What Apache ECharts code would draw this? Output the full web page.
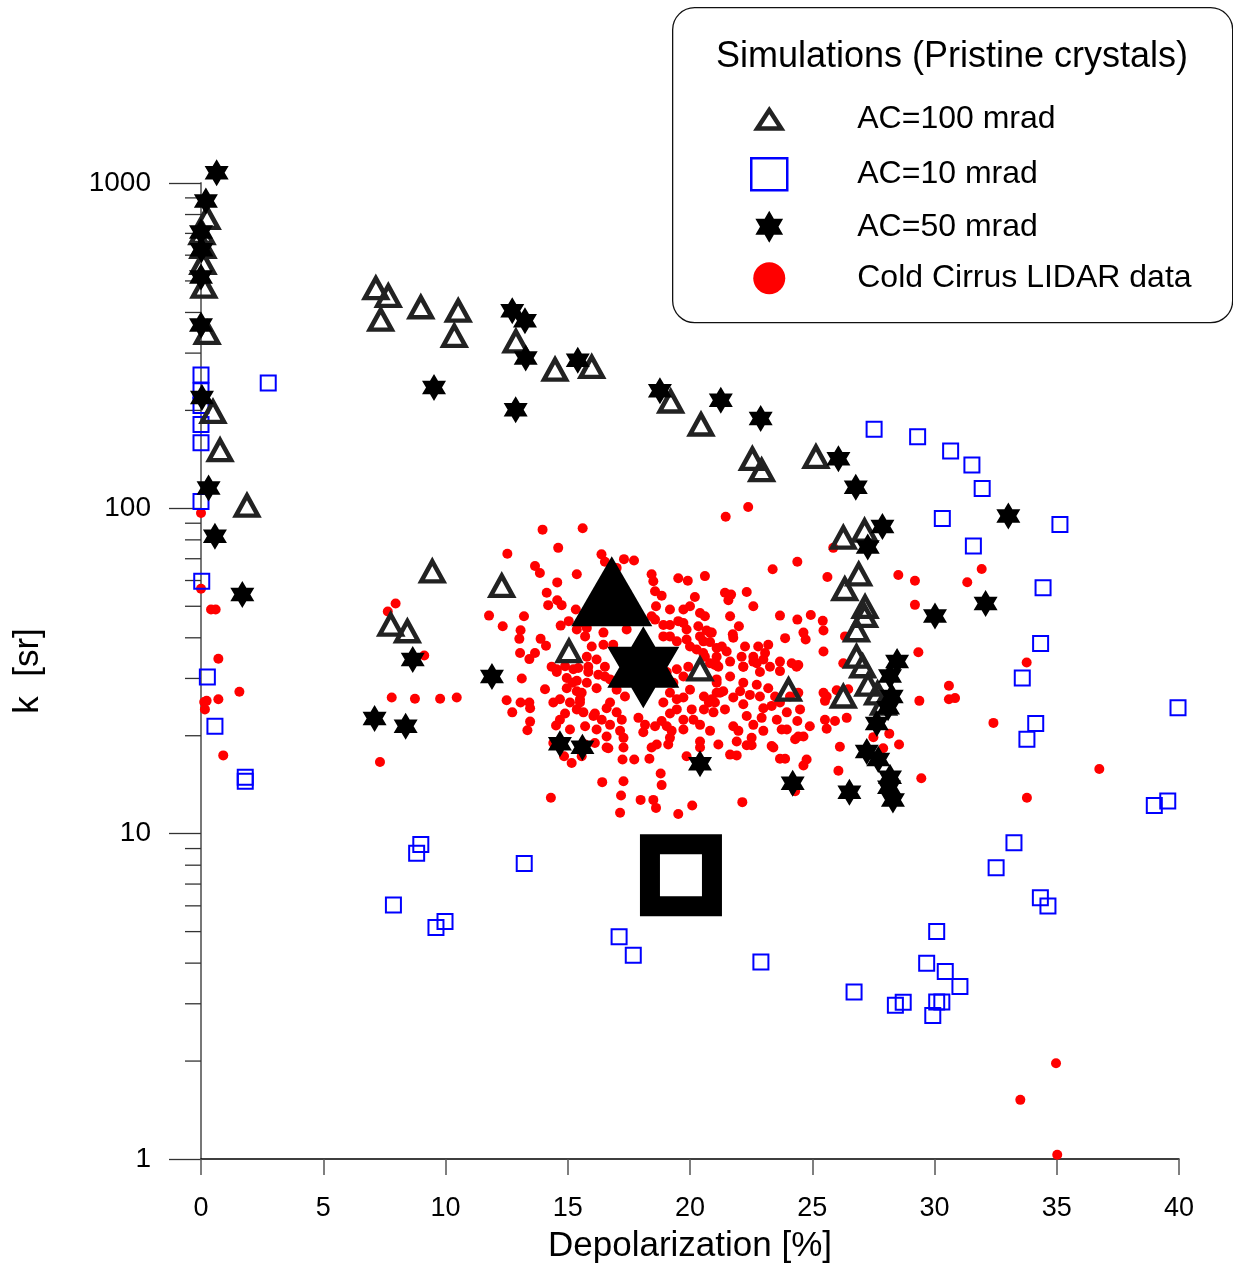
<!DOCTYPE html>
<html><head><meta charset="utf-8">
<script src="https://cdn.jsdelivr.net/npm/echarts@6/dist/echarts.min.js"></script>
<style>html,body{margin:0;padding:0;background:#fff}#c{width:1233px;height:1269px}</style>
</head><body><div id="c"></div>
<script>
// ---------- DATA (Depolarization %, k sr) ----------
const legendNames = ['AC=100 mrad', 'AC=10 mrad', 'AC=50 mrad', 'Cold Cirrus LIDAR data'];
const legendTitle = 'Simulations (Pristine crystals)';
const xTickValues = [0, 5, 10, 15, 20, 25, 30, 35, 40];
const yMinorTickValues = [2,3,4,5,6,7,8,9,20,30,40,50,60,70,80,90,200,300,400,500,600,700,800,900];

const ac100 = [
  [0.25,781],[0.04,702],[0.08,636],[0.08,568],[0.12,480],[0.25,346],[0.49,198],[0.78,151],[1.88,102],
  [7.15,475],[7.66,450],[7.35,380],[8.99,415],[10.52,405],[10.36,339],[12.88,326],[14.48,267],[15.98,272],
  [19.21,213],[20.45,181],[22.55,142],[22.93,131],[25.15,144],
  [26.27,81.3],[27.14,85.4],[26.90,62.7],[26.33,56.5],[27.16,49.8],[27.14,46.7],[26.81,42.2],[26.81,35.0],
  [27.06,32.7],[27.28,28.7],[27.67,27.0],[27.91,25.1],[26.27,26.4],[24.03,27.7],[20.41,32.0],[15.05,36.4],
  [12.30,57.8],[9.46,64.0],[7.76,43.9],[8.44,41.9]
];
const ac10 = [
  [0,257],[0,230],[2.75,243],[0,207],[0,181],[0,159],[0,105],[0.03,59.7],[0.26,30.3],[0.57,21.4],[1.81,14.9],[1.81,14.5],
  [8.99,9.27],[8.82,8.70],[13.22,8.09],[7.87,6.04],[9.98,5.37],[9.61,5.15],[17.10,4.82],[17.68,4.23],[22.90,4.03],
  [27.53,175],[29.31,166],[30.66,150],[31.53,136],[31.95,115],[30.32,93.0],[35.13,89.2],[31.59,76.6],[34.44,57.0],
  [34.34,38.4],[33.59,30.1],[34.14,21.8],[33.78,19.5],[39.96,24.4],[38.99,12.2],[39.54,12.6],[33.25,9.37],[32.52,7.85],
  [34.33,6.35],[34.64,5.99],[30.09,5.00],[29.68,4.00],[30.44,3.77],[31.04,3.39],[26.71,3.26],[28.40,2.97],[28.72,3.03],
  [30.09,3.04],[30.30,3.04],[29.93,2.76]
];
const ac50 = [
  [0.64,1076],[0.20,880],[0.0,707],[0.02,623],[0.0,514],[0.0,366],[0.04,219],[0.31,115.5],[0.57,82],[1.69,54.3],
  [12.73,405],[13.25,377],[13.28,290],[9.53,235],[12.87,201],[15.41,285],[18.77,230],[21.26,215],[22.89,189],[26.07,142],
  [8.66,34.3],[11.90,30.4],[7.10,22.6],[8.37,21.4],[14.68,18.9],[15.60,18.45],[20.41,16.4],[24.2,14.3],
  [26.78,116],[27.87,87.9],[27.27,76.1],[33.02,94.7],[32.09,51.0],[30.02,46.7],[28.47,33.8],[28.18,30.5],[28.25,26.4],
  [28.10,24.4],[27.64,21.8],[27.23,17.9],[27.70,16.9],[28.18,14.9],[28.14,13.9],[28.3,12.7],[26.52,13.4]
];
const lidar = [
  [13.97,86],[15.61,86.9],[14.61,75.6],[12.53,72.5],[13.66,66.5],[13.86,63.3],[16.38,72.2],[16.52,68.5],[17.30,69.8],[17.71,69.1],
  [15.37,62.7],[14.57,59.2],[18.43,62.7],[18.50,59.7],[19.52,61.0],[19.91,59.9],[20.61,61.9],[14.14,55],[14.57,52.2],[14.75,50.4],
  [14.20,50.4],[18.57,55.6],[18.84,53.9],[20.20,53.4],[18.61,50.0],[19.18,48.9],[11.78,46.8],[13.21,46.6],[12.34,43.4],[14.71,43.6],
  [15.33,48.9],[13.07,42.2],[13.02,39.7],[13.89,39.7],[14.11,37.8],[13.05,35.9],[13.66,35.9],[13.43,34.4],[16.46,41.5],[16.46,38.1],
  [16.86,38.1],[17.41,42.4],[15.71,40.4],[19.73,48.9],[20.41,47.7],[19.73,44.4],[20.34,43.4],[20.82,41.5],[18.91,40.4],[19.46,39],
  [20.0,37.6],[20.61,35],[18.43,46.6],[15.98,37.6],[16.18,34.3],[15.64,44.4],[17.61,50.0],[17.41,55],[17.0,65.6],
  [19.86,42.4],[20.68,42.1],[19.18,40.4],[19.86,39.5],[20.54,35.9],[21.09,37.2],[15.78,35.0],[15.37,42.4],[15.78,42.9],[19.52,45],
  [20.0,50],[20.61,46.6],
  [18.57,45.5],[18.91,43.8],[19.18,43.8],[20.41,40.4],[20.55,39],[20.27,36.8],[20.82,33.4],[21.09,33],
  [14.55,31.4],[15.09,25.3],[15.71,18.8],[16.11,19.0],[16.59,19.9],[15.09,20.9],[14.68,22.4],[19.73,22.4],[20.41,21.6],
  [20.89,25.9],[21.36,27.4],[22.05,27.4],[23.48,26.4],[23.68,25.3],[24.09,26.4],[23.96,23.6],[23.55,22.4],[22.59,21.6],
  [23.0,20.7],[24.5,24.1],[24.9,21.4],[20.82,38.8],[21.09,35],[22.73,33.4],[23.27,32.6],[22.18,32.6],
  [15.23,32],[15.84,31.4],[15.5,25.9],[16.05,23],
  [21.46,94.2],[22.38,101],[24.39,68.5],[23.38,65],[25.62,61.5],[28.52,62.4],[29.2,59.9],[31.34,59.3],[21.43,55],[21.68,54.3],
  [21.57,52.2],[22.32,55.3],[22.59,50],[21.64,46.6],[22.0,43.4],[23.68,46.8],[24.39,45.5],[24.94,47.0],[25.43,45.1],[25.46,42.1],
  [29.2,50.5],[20.89,41.5],[21.75,41],[21.77,40],[23.89,39.9],[24.64,41.5],[24.73,39.5],[25.46,36.3],[21.3,37.6],[21.5,36.3],
  [22.25,37.6],[22.79,37.6],[23.2,38.1],[22.59,35],[23.07,35.9],[22.11,35],[21.02,33.0],[21.64,33.8],[23.68,33.8],[24.16,33.4],
  [24.43,33.0],[26.27,33.4],[29.34,36.1],[25.86,75.6],[26.34,40.4],
  [13.12,30],[14.07,27.8],[12.5,25.7],[13.07,25.3],[13.43,25.3],[13.46,24.3],[12.73,23.6],[13.46,22.1],[13.35,20.8],[14.52,21.5],
  [14.41,25.3],[14.89,23.4],[14.68,25.9],[14.96,28],[14.96,30.1],[14.34,32.6],[14.89,32.7],[15.43,32.3],[15.84,32.6],[15.37,29.5],
  [15.78,29.1],[15.57,27.1],[15.5,25.3],[15.37,24.1],[15.64,23.6],[16.11,23.4],[16.39,22.4],[15.71,21.4],[16.18,20.9],[16.73,21.6],
  [16.18,28.0],[16.52,30.4],[16.52,32.6],[16.25,30.8],[16.73,25.3],[16.59,24.3],[17.0,23.6],[17.21,22.4],[17.14,20.7],[17.28,19.7],
  [17.28,18.4],[16.59,18.4],[17.24,16.9],[17.72,16.9],[18.34,17.0],[16.41,14.4],[17.28,14.5],[14.31,12.9],[17.18,13.1],[17.98,12.7],
  [18.5,12.7],[18.61,12.0],[17.14,11.6],[19.52,11.5],[20.09,12.2],[18.8,15.3],[18.84,14.1],[18.43,18.4],[18.64,18.8],[19.11,18.8],
  [19.18,19.7],[19.25,20.7],[19.05,21.4],[19.73,20.9],[19.86,17.3],[20.41,19.2],[20.41,18.4],[20.82,20.7],[21.16,18.8],[17.89,22.7],
  [18.16,21.6],[18.09,20.5],[18.57,21.4],[18.84,22.2],[19.18,23.4],[19.46,24.1],[19.46,25.9],[18.91,25.3],[19.18,27.1],[19.73,26.2],
  [20.0,27.7],[20.07,24.1],[20.14,22.4],[20.57,24.1],[20.77,25.3],[20.57,26.4],[20.96,23.6],[21.09,27.1],[17.0,27.7],[17.34,26.4],
  [16.73,29.8],[19.73,30.4],[19.46,32.0],[19.93,32.6],[19.05,31.4],[19.32,29.1],[21.09,29.1],[21.16,32.6],[14.41,19.0],[15.16,16.5],
  [15.57,17.3],
  [22.18,32.6],[22.59,33.8],[23.0,34.3],[23.68,31.6],[24.36,32.6],[21.09,29.8],[21.64,30.4],[22.18,29.1],[22.86,31.4],[22.73,28.7],
  [23.2,28.0],[21.23,27.1],[21.77,26.2],[22.45,26.7],[22.86,26.4],[21.02,25.3],[21.43,24.1],[22.18,25.0],[23.0,24.3],[23.34,24.7],
  [24.43,27.1],[25.59,26.4],[25.52,25.6],[22.32,23],[22.93,22.7],[24.39,22.2],[25.52,22.4],[25.93,22.2],[26.41,22.7],[25.59,21.0],
  [21.77,21.4],[21.98,20.7],[22.52,19.7],[21.91,19.2],[23.75,20.9],[23.96,20.9],[24.43,19.9],[24.64,19.9],[24.3,19.5],
  [22.32,18.7],[22.52,18.7],[23.34,18.6],[23.41,18.4],[21.64,17.5],[21.91,17.4],[23.68,17.0],[23.89,17.0],[24.77,16.9],[24.64,16.2],
  [22.14,12.5],[24.3,13.5],[26.13,18.5],[26.07,15.6],[27.5,19.8],[28.15,20.3],[28.55,18.8],[27.9,18.3],[30.59,28.5],[30.59,25.9],
  [30.84,26.1],[29.38,25.6],[29.46,14.8],[25.46,27.1],
  [7.96,51],[7.64,48.2],[9.13,35.3],[7.8,26.2],[8.75,26.0],[9.78,26.0],[10.46,26.2],[7.32,16.6],[15.04,45],[14.55,32],
  [15.19,29.1],[15.37,27.4],[14.85,17.3],[16.66,18.3],
  [0,96.8],[0,56.6],[0.41,48.9],[0.6,48.9],[0.71,34.5],[0.13,25.4],[0.23,25.6],[0.16,24.1],[0.71,25.9],[1.57,27.3],[0.91,17.4],
  [31.93,65.1],[33.77,33.6],[26.0,27.6],[26.47,27.8],[32.41,21.9],[36.74,15.8],[33.78,12.9],[34.97,1.97],[33.51,1.52],[35.02,1.03]
];
// large mean markers: triangle (AC=100), star (AC=50), square (AC=10)
const meanTriangle = [16.8, 55.6];
const meanStar = [18.09, 32.5];
const meanSquare = [19.63, 7.45];

// ---------- CHART ----------
const STAR = 'path://M866 0L1155 500L1732 500L1443 1000L1732 1500L1155 1500L866 2000L577 1500L0 1500L289 1000L0 500L577 500Z';
const LEGEND_TRI = 'path://M0 0M36 32M18 6.8L30 25.2L6 25.2Z';
const LEGEND_STAR = 'path://M0 0M36 32M18 0L22.62 8L31.86 8L27.24 16L31.86 24L22.62 24L18 32L13.38 24L4.14 24L8.76 16L4.14 8L13.38 8Z';
const FONT = '"Liberation Sans", Arial, sans-serif';
const chart = echarts.init(document.getElementById('c'), null, {renderer: 'canvas'});

const triStyle = {color: 'rgba(255,255,255,0)', borderColor: '#222', borderWidth: 4.5, opacity: 1};
const sqStyle = {color: 'rgba(255,255,255,0)', borderColor: '#0000ff', borderWidth: 2, opacity: 1};
const starStyle = {color: '#000', opacity: 1};
const dotStyle = {color: '#ff0000', opacity: 1};

const option = {
  animation: false,
  backgroundColor: '#fff',
  textStyle: {fontFamily: FONT},
  grid: {left: 201, right: 54, top: 183, bottom: 109, containLabel: false},
  xAxis: {
    type: 'value', min: xTickValues[0], max: xTickValues[xTickValues.length - 1], interval: 5,
    axisLine: {show: true, lineStyle: {color: '#000', width: 1.5}},
    axisTick: {show: true, length: 16, lineStyle: {color: '#555', width: 1.5}},
    axisLabel: {fontSize: 27, color: '#000', margin: 36, fontFamily: FONT},
    splitLine: {show: false},
    name: 'Depolarization [%]', nameLocation: 'middle', nameGap: 70,
    nameTextStyle: {fontSize: 35, color: '#000', fontFamily: FONT}
  },
  yAxis: {
    type: 'log', logBase: 10, min: 1, max: 1000,
    axisLine: {show: true, lineStyle: {color: '#777', width: 2}},
    axisTick: {show: true, length: 32, lineStyle: {color: '#333', width: 1.3}},
    axisLabel: {fontSize: 28, color: '#000', margin: 50, fontFamily: FONT, formatter: v => String(Math.round(v))},
    splitLine: {show: false},
    name: 'k  [sr]', nameLocation: 'middle', nameGap: 155, nameRotate: 90,
    nameTextStyle: {fontSize: 35, color: '#000', fontFamily: FONT}
  },
  legend: {
    orient: 'vertical', left: 749, top: 101, padding: 0, itemWidth: 36, itemHeight: 32, itemGap: 19.4,
    selectedMode: false, symbolKeepAspect: false,
    data: [
      {name: legendNames[0], icon: LEGEND_TRI, itemStyle: {color: 'rgba(255,255,255,0)', borderColor: '#222', borderWidth: 4.5}},
      {name: legendNames[1], itemStyle: {color: 'rgba(255,255,255,0)', borderColor: '#0000ff', borderWidth: 2.5}},
      {name: legendNames[2], icon: LEGEND_STAR, itemStyle: {color: '#000'}},
      {name: legendNames[3], itemStyle: {color: '#ff0000'}}
    ],
    textStyle: {fontSize: 32, color: '#000', fontFamily: FONT, padding: [0, 0, 0, 65]}
  },
  graphic: [
    {type: 'rect', left: 672, top: 7, z: 0, shape: {width: 560, height: 315, r: 22},
     style: {fill: '#fff', stroke: '#111', lineWidth: 1.3}},
    {type: 'text', x: 952, y: 57, z: 1,
     style: {text: legendTitle, font: '36px ' + FONT, fill: '#000', align: 'center', verticalAlign: 'middle'}}
  ],
  series: [
    {
      type: 'custom', silent: true, clip: false, z: 1,
      data: yMinorTickValues.map(v => [0, v]),
      renderItem: (params, api) => {
        const p = api.coord([0, api.value(1)]);
        return {type: 'line', shape: {x1: p[0] - 16, y1: p[1], x2: p[0], y2: p[1]},
                style: {stroke: '#333', lineWidth: 1.3}};
      }
    },
    {name: legendNames[3], type: 'scatter', data: lidar, clip: false, z: 2,
     symbol: 'circle', symbolSize: 10, itemStyle: dotStyle, emphasis: {disabled: true}},
    {name: legendNames[1], type: 'scatter', data: ac10, clip: false, z: 3,
     symbol: 'rect', symbolSize: 15, itemStyle: sqStyle, emphasis: {disabled: true}},
    {name: legendNames[0], type: 'scatter', data: ac100, clip: false, z: 4,
     symbol: 'triangle', symbolSize: [22, 20], itemStyle: triStyle, emphasis: {disabled: true}},
    {name: legendNames[2], type: 'scatter', data: ac50, clip: false, z: 5,
     symbol: STAR, symbolSize: [24, 27], itemStyle: starStyle, emphasis: {disabled: true}},
    {name: 'mean', type: 'scatter', clip: false, z: 6, emphasis: {disabled: true},
     data: [
       {value: meanTriangle, symbol: 'triangle', symbolSize: [81, 70], itemStyle: {color: '#000', opacity: 1}},
       {value: meanStar, symbol: STAR, symbolSize: [72, 82], itemStyle: {color: '#000', opacity: 1}},
       {value: meanSquare, symbol: 'rect', symbolSize: 62, itemStyle: {color: '#fff', borderColor: '#000', borderWidth: 20, opacity: 1}}
     ]}
  ]
};
chart.setOption(option);
</script>
</body></html>
